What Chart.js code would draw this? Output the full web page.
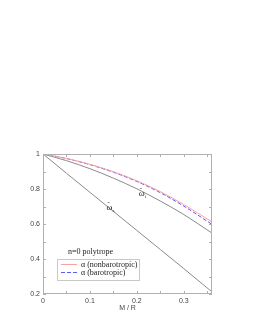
<!DOCTYPE html>
<html lang="en">
<head>
<meta charset="UTF-8">
<title>n=0 polytrope</title>
<script src="https://cdn.jsdelivr.net/npm/chart.js"></script>
<style>
    body { margin: 0; background: #fff; }
    canvas { display: block; }
</style>
</head>
<body>
<canvas id="grafico" width="257" height="333"></canvas>
<script>
// M/R sample points
const compactness = [0, 0.05, 0.1, 0.15, 0.2, 0.25, 0.3, 0.36];
// alpha curves
const alphaNonbaro = [1, 0.975, 0.941, 0.899, 0.847, 0.785, 0.711, 0.612];
const alphaBaro    = [1, 0.974, 0.939, 0.896, 0.843, 0.779, 0.702, 0.598];
// omega curves (grey)
const omegaI = [1, 0.962, 0.916, 0.862, 0.801, 0.731, 0.654, 0.548];
const omegaS = [1, 0.89, 0.781, 0.672, 0.563, 0.454, 0.345, 0.212];

const xTicks = [0, 0.1, 0.2, 0.3];
const yTicks = [0.2, 0.4, 0.6, 0.8, 1];
const xMinor = [0.05, 0.15, 0.25, 0.35];
const yMinor = [0.3, 0.5, 0.7, 0.9];

// curve labels: [x, y, subscript]
const curveLabels = [
    [0.135, 0.68, 's'],
    [0.204, 0.762, 'i']
];

const pts = ys => compactness.map((x, i) => ({ x: x, y: ys[i] }));

const serif = '"Liberation Serif", "DejaVu Serif", serif';

// inward ticks on all four sides + frame
const frame = {
    id: 'frame',
    afterDraw(chart) {
        const { ctx, chartArea: a, scales: { x, y } } = chart;
        ctx.save();
        ctx.strokeStyle = '#b0b0b0';
        ctx.lineWidth = 1;
        ctx.strokeRect(a.left + 0.5, a.top + 0.5, a.right - a.left - 1, a.bottom - a.top - 1);
        ctx.beginPath();
        xTicks.concat(xMinor).forEach(v => {
            const px = Math.round(x.getPixelForValue(v)) + 0.5;
            ctx.moveTo(px, a.bottom); ctx.lineTo(px, a.bottom - 3);
            ctx.moveTo(px, a.top); ctx.lineTo(px, a.top + 3);
        });
        yTicks.concat(yMinor).forEach(v => {
            const py = Math.round(y.getPixelForValue(v)) + 0.5;
            ctx.moveTo(a.left, py); ctx.lineTo(a.left + 3, py);
            ctx.moveTo(a.right, py); ctx.lineTo(a.right - 3, py);
        });
        ctx.stroke();
        ctx.restore();
    }
};

// text labels and legend box
const notes = {
    id: 'notes',
    afterDraw(chart) {
        const { ctx, scales: { x, y } } = chart;
        ctx.save();
        ctx.fillStyle = '#222';
        ctx.textBaseline = 'alphabetic';
        curveLabels.forEach(([lx, ly, sub]) => {
            const px = x.getPixelForValue(lx), py = y.getPixelForValue(ly);
            ctx.font = '9px ' + serif;
            ctx.fillText('\u03C9', px, py);
            ctx.font = '7px ' + serif;
            ctx.fillText('\u02DC', px + 1, py - 4);
            ctx.font = '5px ' + serif;
            ctx.fillText(sub, px + 6, py + 2);
        });

        ctx.font = '8px ' + serif;
        ctx.fillText('n=0 polytrope', 68, 254);

        // legend
        ctx.strokeStyle = '#c8c8c8';
        ctx.lineWidth = 1;
        ctx.strokeRect(57.5, 259.5, 82, 21);
        const rows = [264.5, 272.5];
        chart.data.datasets.slice(0, 2).forEach((ds, i) => {
            ctx.strokeStyle = ds.borderColor;
            ctx.setLineDash(ds.borderDash || []);
            ctx.beginPath();
            ctx.moveTo(61, rows[i]); ctx.lineTo(77, rows[i]);
            ctx.stroke();
            ctx.setLineDash([]);
            ctx.fillStyle = '#222';
            ctx.textBaseline = 'middle';
            ctx.fillText(ds.label, 81, rows[i]);
        });
        ctx.restore();
    }
};

Chart.defaults.font.family = '"Liberation Sans", Arial, sans-serif';
Chart.defaults.font.size = 7;
Chart.defaults.color = '#444';

new Chart(document.getElementById('grafico'), {
    type: 'line',
    data: {
        datasets: [
            { label: '\u03B1 (nonbarotropic)', data: pts(alphaNonbaro), borderColor: '#ffa0a0', borderWidth: 1 },
            { label: '\u03B1 (barotropic)', data: pts(alphaBaro), borderColor: '#5a5aff', borderWidth: 1, borderDash: [4, 2] },
            { label: 'omega_i', data: pts(omegaI), borderColor: '#8a8a8a', borderWidth: 1 },
            { label: 'omega_s', data: pts(omegaS), borderColor: '#8a8a8a', borderWidth: 1 }
        ]
    },
    options: {
        responsive: false,
        animation: false,
        layout: { padding: { top: 154, right: 45, left: 0, bottom: 0 } },
        elements: { point: { radius: 0 }, line: { tension: 0.4, cubicInterpolationMode: 'monotone' } },
        plugins: { legend: { display: false }, tooltip: { enabled: false } },
        scales: {
            x: {
                type: 'linear', min: 0, max: 0.36,
                afterBuildTicks: s => { s.ticks = xTicks.map(v => ({ value: v })); },
                afterFit: s => { s.height = 39; },
                ticks: { padding: 3, maxRotation: 0, callback: v => String(v) },
                grid: { display: false, drawTicks: false },
                border: { display: false },
                title: { display: true, text: 'M / R', padding: { top: 0, bottom: 21 } }
            },
            y: {
                type: 'linear', min: 0.2, max: 1,
                afterBuildTicks: s => { s.ticks = yTicks.map(v => ({ value: v })); },
                afterFit: s => { s.width = 43; },
                ticks: { padding: 3, callback: v => String(v) },
                grid: { display: false, drawTicks: false },
                border: { display: false }
            }
        }
    },
    plugins: [frame, notes]
});
</script>
</body>
</html>
